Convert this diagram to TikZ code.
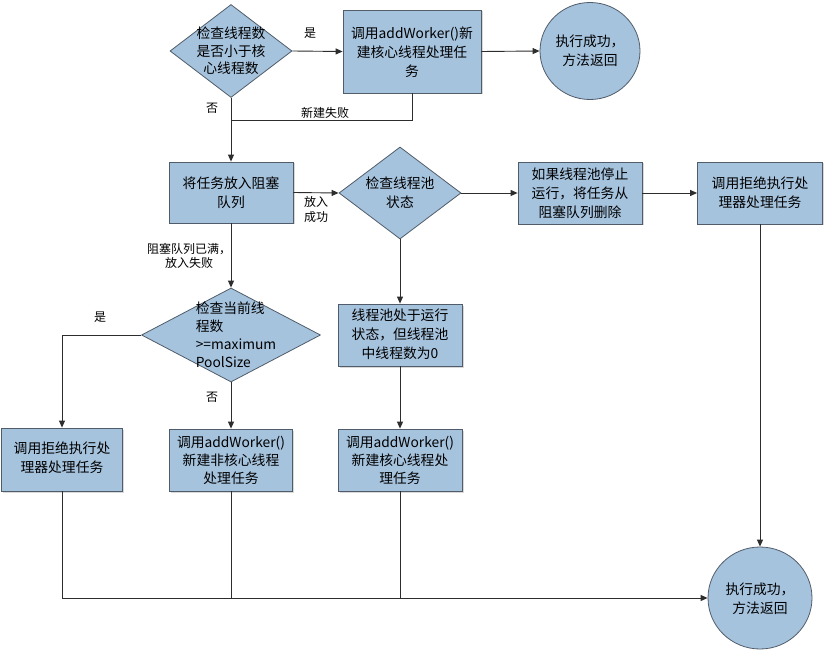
\documentclass[tikz,border=0pt]{standalone}
\usepackage{fontspec}
\setmainfont{Noto Sans CJK SC}
\usetikzlibrary{arrows.meta,shapes.geometric,shadows}
\definecolor{fillblue}{RGB}{166,195,222}
\definecolor{edgegray}{RGB}{80,92,105}
\definecolor{linegray}{RGB}{45,45,45}
\tikzset{
  procbox/.style={draw=edgegray,line width=0.8pt,fill=fillblue,inner sep=0pt,
    drop shadow={shadow xshift=1.5pt,shadow yshift=-1.5pt,fill=black!30}},
  decis/.style={diamond,draw=edgegray,line width=0.8pt,fill=fillblue,inner sep=0pt,aspect=1.3},
  termin/.style={ellipse,draw=edgegray,line width=0.8pt,fill=fillblue,inner sep=0pt},
  bigtxt/.style={align=center,font=\fontsize{13.8}{19.2}\selectfont,inner sep=0pt},
  smalltxt/.style={align=center,font=\fontsize{12}{15}\selectfont,inner sep=0pt},
  conn/.style={draw=linegray,line width=0.9pt},
  arr/.style={conn,-{Triangle[length=7pt,width=6pt]}}
}
\begin{document}
\begin{tikzpicture}[x=1pt,y=-1pt]
\useasboundingbox (0,0) rectangle (824,652);
\fill[white] (0,0) rectangle (824,652);
% shapes
\node[decis,minimum width=122,minimum height=93] (d1) at (231,51) {};
\node[bigtxt,font=\fontsize{13.8}{17.5}\selectfont] (d1t) at (231,51) {检查线程数\\是否小于核\\心线程数};
\node[procbox,minimum width=138,minimum height=83] (b1) at (412,51.5) {};
\node[bigtxt] (b1t) at (412,52) {调用addWorker()新\\建核心线程处理任\\务};
\node[termin,minimum width=100,minimum height=97] (c1) at (590,51) {};
\node[bigtxt] (c1t) at (590,51) {执行成功，\\方法返回};

\node[procbox,minimum width=124,minimum height=61] (b2) at (231,192.5) {};
\node[bigtxt] (b2t) at (231,193) {将任务放入阻塞\\队列};
\node[decis,minimum width=122,minimum height=92] (d2) at (400,193) {};
\node[bigtxt] (d2t) at (400,193) {检查线程池\\状态};
\node[procbox,minimum width=124,minimum height=62] (b3) at (580,193) {};
\node[bigtxt] (b3t) at (580,193) {如果线程池停止\\运行，将任务从\\阻塞队列删除};
\node[procbox,minimum width=125,minimum height=62] (b4) at (760,193) {};
\node[bigtxt] (b4t) at (760,193) {调用拒绝执行处\\理器处理任务};

\node[decis,minimum width=179,minimum height=94] (d3) at (231,335) {};
\node[bigtxt,align=left,font=\fontsize{13.8}{18}\selectfont] (d3t) at (236,335) {检查当前线\\程数\\>=maximum\\PoolSize};
\node[procbox,minimum width=124,minimum height=62] (b8) at (400,335) {};
\node[bigtxt] (b8t) at (400,334) {线程池处于运行\\状态，但线程池\\中线程数为0};

\node[procbox,minimum width=121,minimum height=63] (b5) at (62,459.5) {};
\node[bigtxt] (b5t) at (62,458) {调用拒绝执行处\\理器处理任务};
\node[procbox,minimum width=123,minimum height=62] (b6) at (231,460) {};
\node[bigtxt,font=\fontsize{13.8}{18}\selectfont] (b6t) at (231,460) {调用addWorker()\\新建非核心线程\\处理任务};
\node[procbox,minimum width=124,minimum height=62] (b7) at (400,460) {};
\node[bigtxt,font=\fontsize{13.8}{18}\selectfont] (b7t) at (400,460) {调用addWorker()\\新建核心线程处\\理任务};

\node[termin,minimum width=104,minimum height=102] (c2) at (760,598) {};
\node[bigtxt] (c2t) at (760,599) {执行成功，\\方法返回};

% helper coordinates
\coordinate (j1) at (412,120);
\coordinate (j2) at (231,120);

% connectors
\draw[arr] (d1.east) -- (b1.west);
\draw[arr] (b1.east) -- (c1.west);
\draw[arr] (d1.south) -- (b2.north);
\draw[conn] (b1.south) -- (j1) -- (j2);
\draw[arr] (b2.east) -- (d2.west);
\draw[arr] (d2.east) -- (b3.west);
\draw[arr] (b3.east) -- (b4.west);
\draw[arr] (b4.south) -- (c2.north);
\draw[arr] (b2.south) -- (d3.north);
\draw[arr] (d3.west) -| (b5.north);
\draw[arr] (d3.south) -- (b6.north);
\draw[arr] (d2.south) -- (b8.north);
\draw[arr] (b8.south) -- (b7.north);
\draw[arr] (b5.south) |- (c2.west);
\draw[conn] (b6.south) -- (b6.south |- c2.west);
\draw[conn] (b7.south) -- (b7.south |- c2.west);

% labels
\node[smalltxt] (l1) at (310,33) {是};
\node[smalltxt] (l2) at (212,108) {否};
\node[smalltxt] (l3) at (325,113) {新建失败};
\node[smalltxt] (l4) at (316,209) {放入\\成功};
\node[smalltxt,font=\fontsize{12}{14.5}\selectfont] (l5) at (189,256) {阻塞队列已满，\\放入失败};
\node[smalltxt] (l6) at (100,317) {是};
\node[smalltxt] (l7) at (212,397) {否};
\end{tikzpicture}
\end{document}
